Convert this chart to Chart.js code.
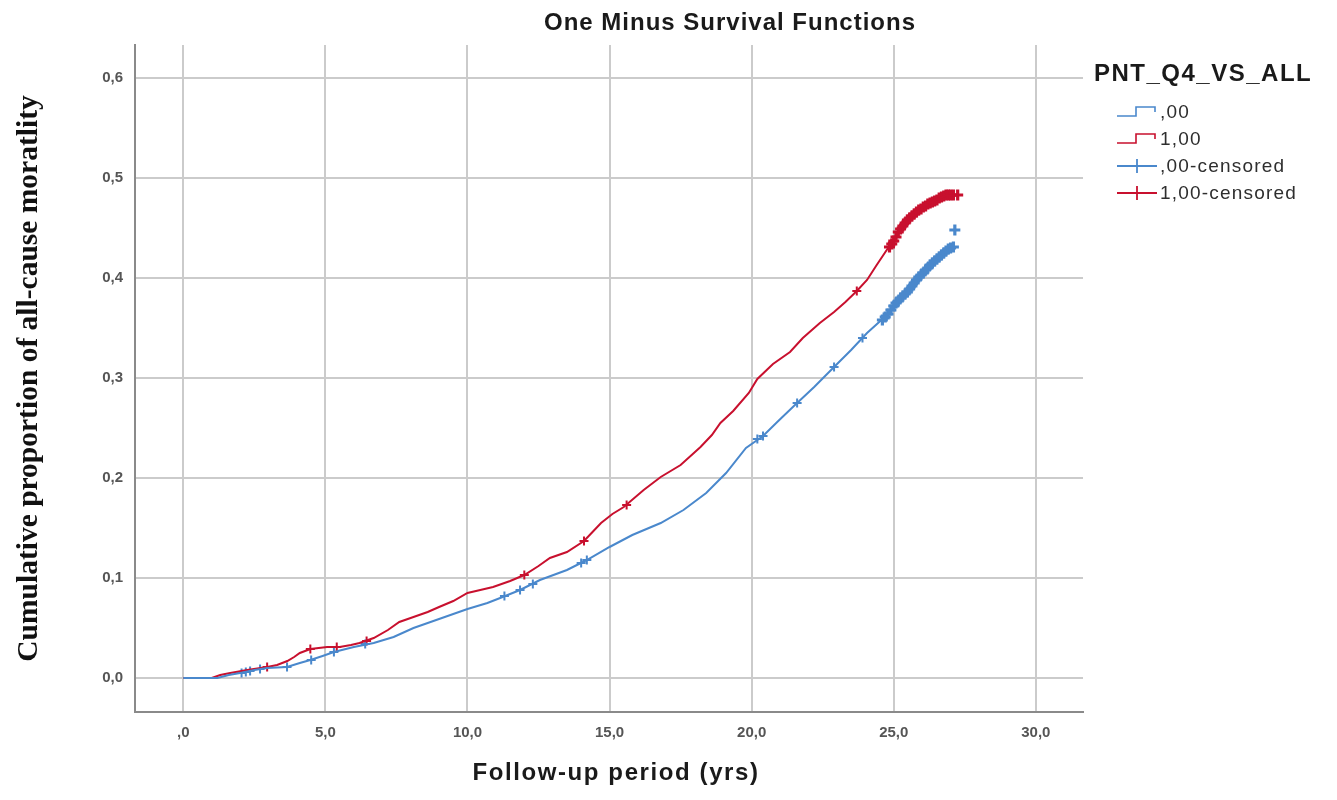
<!DOCTYPE html>
<html>
<head>
<meta charset="utf-8">
<script src="https://cdn.jsdelivr.net/npm/chart.js@4.4.1/dist/chart.umd.min.js"></script>
<style>
  body { margin: 0; background: #ffffff; }
  #wrap { width: 1337px; height: 800px; }
</style>
</head>
<body>
<div id="wrap"><canvas id="kmChart" width="1337" height="800"></canvas></div>
<script>
// ---- data ----
const chartTitle = "One Minus Survival Functions";
const xAxisTitle = "Follow-up period (yrs)";
const yAxisTitle = "Cumulative proportion of all-cause moratlity";
const legendTitle = "PNT_Q4_VS_ALL";
const legendLabels = [",00", "1,00", ",00-censored", "1,00-censored"];
const xTickValues = [0, 5, 10, 15, 20, 25, 30];
const xTickLabels = [",0", "5,0", "10,0", "15,0", "20,0", "25,0", "30,0"];
const yTickValues = [0, 0.1, 0.2, 0.3, 0.4, 0.5, 0.6];
const yTickLabels = ["0,0", "0,1", "0,2", "0,3", "0,4", "0,5", "0,6"];

// group ,00 (blue) curve
const blueX = [0, 1.2, 1.6, 2.0, 2.5, 2.95, 3.65, 4.1, 4.47, 4.9, 5.3, 6.0, 6.7, 7.4, 8.1, 8.8, 9.5, 10.0,
  10.7, 11.15, 11.85, 12.55, 13.5, 14.2, 15.0, 15.8, 16.8, 17.6, 18.4, 19.1, 19.8, 20.4, 20.9, 21.45,
  22.2, 22.9, 23.5, 24.06, 24.76, 25.0, 25.5, 26.0, 26.5, 27.0, 27.2];
const blueY = [0, 0, 0.003, 0.005, 0.008, 0.010, 0.011, 0.015, 0.018, 0.022, 0.026, 0.031, 0.035, 0.041, 0.050, 0.057, 0.064, 0.069,
  0.075, 0.080, 0.088, 0.098, 0.108, 0.118, 0.131, 0.143, 0.155, 0.168, 0.185, 0.205, 0.230, 0.242, 0.256, 0.271,
  0.291, 0.311, 0.328, 0.345, 0.363, 0.372, 0.387, 0.404, 0.419, 0.430, 0.431];

// group 1,00 (red) curve
const redX = [0, 1.0, 1.3, 1.65, 2.25, 2.95, 3.3, 3.66, 3.9, 4.1, 4.47, 5.06, 5.5, 5.9, 6.2, 6.7, 7.2, 7.6, 8.1, 8.6, 9.0, 9.5, 10.0,
  10.45, 10.9, 11.5, 12.0, 12.5, 12.9, 13.5, 14.1, 14.4, 14.7, 15.1, 15.5, 16.2, 16.8, 17.5, 18.2, 18.6, 18.9, 19.35, 19.9,
  20.2, 20.75, 21.35, 21.8, 22.4, 22.9, 23.3, 23.7, 24.06, 24.4, 24.8, 25.2, 25.6, 26.0, 26.4, 26.8, 27.3];
const redY = [0, 0, 0.003, 0.005, 0.008, 0.011, 0.013, 0.017, 0.021, 0.025, 0.029, 0.031, 0.031, 0.033, 0.035, 0.040, 0.048, 0.056, 0.061, 0.066, 0.071, 0.077, 0.085,
  0.088, 0.091, 0.097, 0.103, 0.112, 0.120, 0.126, 0.137, 0.146, 0.155, 0.164, 0.171, 0.188, 0.201, 0.213, 0.231, 0.243, 0.255, 0.267, 0.285,
  0.299, 0.314, 0.326, 0.340, 0.355, 0.366, 0.376, 0.387, 0.398, 0.413, 0.430, 0.448, 0.461, 0.470, 0.477, 0.482, 0.483];

// censored marks
const blueCensX = [2.05, 2.2, 2.35, 2.7, 3.65, 4.5, 5.3, 6.4, 11.3, 11.85, 12.3, 14.0, 14.2, 20.2, 20.4, 21.6, 22.9, 23.9,
  24.6, 24.7, 24.8, 24.9, 25.0, 25.08, 25.16, 25.24, 25.32, 25.4, 25.48, 25.56, 25.64, 25.72, 25.8, 25.88, 25.96,
  26.04, 26.12, 26.2, 26.28, 26.36, 26.44, 26.52, 26.6, 26.68, 26.76, 26.84, 26.92, 27.0, 27.1, 27.15];
const blueCensY = [0.005, 0.006, 0.007, 0.009, 0.011, 0.018, 0.026, 0.034, 0.082, 0.088, 0.094, 0.115, 0.118, 0.239, 0.242, 0.275, 0.311, 0.340,
  0.358, 0.361, 0.364, 0.368, 0.372, 0.375, 0.377, 0.380, 0.382, 0.384, 0.386, 0.389, 0.392, 0.395, 0.398, 0.401, 0.403,
  0.405, 0.408, 0.410, 0.413, 0.415, 0.417, 0.419, 0.421, 0.423, 0.425, 0.427, 0.429, 0.430, 0.431, 0.448];
const redCensX = [2.95, 4.47, 5.4, 6.45, 12.0, 14.1, 15.6, 23.7,
  24.85, 24.93, 25.0, 25.08, 25.16, 25.24, 25.32, 25.4, 25.48, 25.56, 25.64, 25.72, 25.8, 25.88, 25.96,
  26.04, 26.12, 26.2, 26.28, 26.36, 26.44, 26.52, 26.6, 26.68, 26.76, 26.84, 26.92, 27.0, 27.1, 27.25];
const redCensY = [0.011, 0.029, 0.031, 0.037, 0.103, 0.137, 0.173, 0.387,
  0.431, 0.434, 0.437, 0.441, 0.446, 0.449, 0.452, 0.455, 0.458, 0.460, 0.462, 0.464, 0.466, 0.468, 0.469,
  0.471, 0.472, 0.474, 0.475, 0.476, 0.477, 0.478, 0.480, 0.481, 0.482, 0.483, 0.483, 0.483, 0.483, 0.483];

const BLUE = "#4a88cc";
const RED = "#c8102e";
const SANS = "'Liberation Sans', Arial, sans-serif";

const toPoints = (xs, ys) => xs.map((x, i) => ({ x: x, y: ys[i] }));

// the crowded tail of censored marks is drawn heavier, like the original
const inTail = (c) => c.raw && c.raw.x >= 24.5;
const censRadius = (c) => inTail(c) ? 5.5 : 4.5;
const censWidth = (c) => inTail(c) ? 3.2 : 2;

// little legend glyphs
function stepIcon(color) {
  const c = document.createElement("canvas");
  c.width = 42; c.height = 16;
  const g = c.getContext("2d");
  g.strokeStyle = color; g.lineWidth = 1.6;
  g.beginPath();
  g.moveTo(1, 12); g.lineTo(20, 12); g.lineTo(20, 3); g.lineTo(39, 3); g.lineTo(39, 8);
  g.stroke();
  return c;
}
function crossIcon(color) {
  const c = document.createElement("canvas");
  c.width = 42; c.height = 16;
  const g = c.getContext("2d");
  g.strokeStyle = color; g.lineWidth = 1.8;
  g.beginPath();
  g.moveTo(1, 8); g.lineTo(41, 8);
  g.moveTo(21, 1); g.lineTo(21, 15);
  g.stroke();
  return c;
}

function spacedText(ctx, text, x, y, font, spacing, align) {
  ctx.font = font;
  ctx.letterSpacing = spacing + "px";
  ctx.textAlign = align;
  ctx.fillText(text, x, y);
  ctx.letterSpacing = "0px";
}

const textPlugin = {
  id: "textBits",
  afterDraw(chart) {
    const ctx = chart.ctx;
    ctx.save();
    ctx.textBaseline = "middle";
    ctx.fillStyle = "#1a1a1a";
    spacedText(ctx, chartTitle, 730, 23, "bold 24px " + SANS, 1, "center");
    spacedText(ctx, xAxisTitle, 616, 773, "bold 24px " + SANS, 1.6, "center");
    spacedText(ctx, legendTitle, 1094, 74, "bold 24px " + SANS, 1.5, "left");

    const icons = [stepIcon(BLUE), stepIcon(RED), crossIcon(BLUE), crossIcon(RED)];
    ctx.fillStyle = "#2e2e2e";
    legendLabels.forEach((t, i) => {
      const y = 112 + i * 27;
      ctx.drawImage(icons[i], 1116, y - 8);
      spacedText(ctx, t, 1160, y + 1, "19px " + SANS, 1.2, "left");
    });
    ctx.restore();
  }
};

const ctx = document.getElementById("kmChart").getContext("2d");
new Chart(ctx, {
  type: "scatter",
  data: {
    datasets: [
      {
        label: legendLabels[0],
        data: toPoints(blueX, blueY),
        showLine: true, tension: 0,
        borderColor: BLUE, borderWidth: 2, pointRadius: 0
      },
      {
        label: legendLabels[1],
        data: toPoints(redX, redY),
        showLine: true, tension: 0,
        borderColor: RED, borderWidth: 2, pointRadius: 0
      },
      {
        label: legendLabels[2],
        data: toPoints(blueCensX, blueCensY),
        showLine: false, pointStyle: "cross",
        pointRadius: censRadius, borderColor: BLUE, pointBorderWidth: censWidth
      },
      {
        label: legendLabels[3],
        data: toPoints(redCensX, redCensY),
        showLine: false, pointStyle: "cross",
        pointRadius: censRadius, borderColor: RED, pointBorderWidth: censWidth
      }
    ]
  },
  options: {
    responsive: false,
    animation: false,
    layout: { padding: { left: 0, right: 254, top: 45, bottom: 0 } },
    plugins: {
      legend: { display: false },
      title: { display: false },
      tooltip: { enabled: false }
    },
    scales: {
      x: {
        type: "linear",
        min: -1.7, max: 31.66,
        afterBuildTicks: (axis) => { axis.ticks = xTickValues.map(v => ({ value: v })); },
        afterFit: (scale) => { scale.height = 88; },
        ticks: {
          callback: (v) => xTickLabels[xTickValues.indexOf(v)],
          color: "#555",
          font: { family: SANS, size: 15, weight: "bold" },
          padding: 12, maxRotation: 0
        },
        grid: { color: "#cbcbcb", lineWidth: 2, drawTicks: false },
        border: { display: true, color: "#8a8a8a", width: 2 }
      },
      y: {
        type: "linear",
        min: -0.034, max: 0.633,
        afterBuildTicks: (axis) => { axis.ticks = yTickValues.map(v => ({ value: v })); },
        afterFit: (scale) => { scale.width = 135; },
        ticks: {
          callback: (v) => yTickLabels[yTickValues.indexOf(v)],
          color: "#555",
          font: { family: SANS, size: 15, weight: "bold" },
          padding: 12
        },
        grid: { color: "#cbcbcb", lineWidth: 2, drawTicks: false },
        border: { display: true, color: "#8a8a8a", width: 2 },
        title: {
          display: true,
          text: yAxisTitle,
          color: "#111",
          font: { family: "'Liberation Serif', 'Times New Roman', serif", size: 29.5, weight: "bold" },
          padding: { top: 12, bottom: 0 }
        }
      }
    }
  },
  plugins: [textPlugin]
});
</script>
</body>
</html>
